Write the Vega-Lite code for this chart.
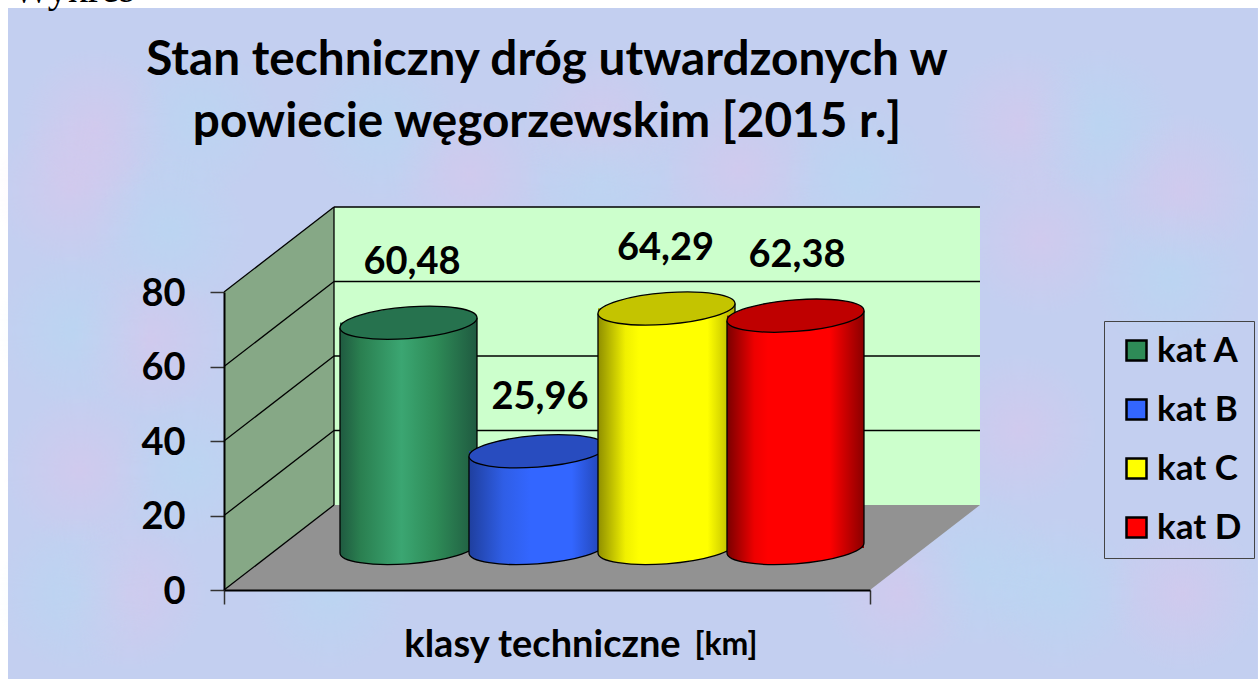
{"$schema":"https://vega.github.io/schema/vega-lite/v6.json","width":646,"height":298,"autosize":"none","padding":{"left":224,"top":292,"right":388,"bottom":89},"background":"#ffffff",
"title":{"text":["Stan techniczny dróg utwardzonych w","powiecie węgorzewskim [2015 r.]"],"font":"Lato","fontSize":47.7,"fontWeight":"bold","color":"#000000","lineHeight":62,"anchor":"middle","frame":"group","offset":-177},
"datasets":{
"bars":[{"kat":"kat A","klasa":1,"value":60.48,"label":"60,48"},{"kat":"kat B","klasa":2,"value":25.96,"label":"25,96"},{"kat":"kat C","klasa":3,"value":64.29,"label":"64,29"},{"kat":"kat D","klasa":4,"value":62.38,"label":"62,38"}],
"page":[{"a":-2.1046,"b":7.585,"c":-23.9,"d":156.24}],
"pink":[{"a":-1.43,"c":125},{"a":-1.624,"c":107.4},{"a":-1.004,"c":67.1},{"a":-1.547,"c":32.2},{"a":-1.159,"c":-1},{"a":1.477,"c":111.4},{"a":3.57,"c":112.8},{"a":5.74,"c":125},{"a":5.895,"c":94},{"a":7,"c":107.4},{"a":5.74,"c":43},{"a":7,"c":-1},{"a":4.81,"c":-1},{"a":2.484,"c":125}],
"cyan":[{"a":-0.616,"c":126.2},{"a":-0.849,"c":96.6},{"a":-1.6,"c":69.8},{"a":-0.694,"c":32.2},{"a":-1.6,"c":-1},{"a":0.392,"c":-1},{"a":2.484,"c":110.1},{"a":4.5,"c":110.1},{"a":6.36,"c":125},{"a":6.903,"c":83.2},{"a":5.43,"c":5.4},{"a":6.05,"c":-1},{"a":0.779,"c":125}],
"back":[{"a":0.4225,"b":5.4303,"c":22.82,"d":102.82}],
"floor":[{"a":-0.4302,"c":0,"d":0},{"a":0.4225,"c":0,"d":22.82},{"a":4.5776,"c":0,"d":22.82},{"a":5.4303,"c":22.82,"d":22.82}],
"side":[{"a":-0.4302,"c":0,"d":80},{"a":0.4225,"c":22.82,"d":102.82}],
"grid":[{"a":-0.4302,"b":0.4225,"c":0,"d":22.82},{"a":-0.4302,"b":0.4225,"c":20,"d":42.82},{"a":-0.4302,"b":0.4225,"c":40,"d":62.82},{"a":-0.4302,"b":0.4225,"c":60,"d":82.82},{"a":-0.4302,"b":0.4225,"c":80,"d":102.82},{"a":0.4225,"b":5.4303,"c":42.82,"d":42.82},{"a":0.4225,"b":5.4303,"c":62.82,"d":62.82},{"a":0.4225,"b":5.4303,"c":82.82,"d":82.82},{"a":0.4225,"b":5.4303,"c":102.82,"d":102.82},{"a":0.4225,"b":0.4225,"c":22.82,"d":102.82}]
},
"config":{"view":{"stroke":null},"axis":{"grid":false,"labelFont":"Lato","labelFontWeight":"bold","labelColor":"#000000","titleFont":"Lato","titleFontWeight":"bold","titleColor":"#000000","domainColor":"#000000","domainWidth":2,"tickColor":"#333333","tickWidth":1.5,"tickSize":14}},
"layer":[
{"data":{"name":"page"},"mark":{"type":"rect","fill":"#C3CFF0"},"encoding":{
"x":{"field":"a","type":"quantitative","scale":{"domain":[-0.4302,4.5776],"nice":false,"zero":false,"padding":0},"axis":{"title":"klasy techniczne","titleFontSize":38,"titleX":318,"titleY":55,"titleBaseline":"middle","labels":false,"values":[-0.4302,4.5776],"zindex":1}},
"x2":{"field":"b"},
"y":{"field":"c","type":"quantitative","scale":{"domain":[0,80],"nice":false,"zero":false,"padding":0},"axis":{"title":null,"labelFontSize":38,"labelPadding":25,"labelOffset":2,"values":[0,20,40,60,80],"zindex":1}},
"y2":{"field":"d"}}},
{"data":{"name":"pink"},"mark":{"type":"circle","size":24000,"opacity":1,"fill":{"gradient":"radial","stops":[{"offset":0,"color":"rgba(238,190,232,0.3)"},{"offset":1,"color":"rgba(238,190,232,0)"}]}},"encoding":{"x":{"field":"a","type":"quantitative"},"y":{"field":"c","type":"quantitative"}}},
{"data":{"name":"cyan"},"mark":{"type":"circle","size":24000,"opacity":1,"fill":{"gradient":"radial","stops":[{"offset":0,"color":"rgba(170,225,245,0.3)"},{"offset":1,"color":"rgba(170,225,245,0)"}]}},"encoding":{"x":{"field":"a","type":"quantitative"},"y":{"field":"c","type":"quantitative"}}},
{"data":{"values":[{}]},"mark":{"type":"text","font":"Liberation Serif","fontSize":40,"align":"left","baseline":"alphabetic","color":"#000000"},"encoding":{"x":{"datum":-2.07},"y":{"datum":157.8},"text":{"value":"Wykres"}}},
{"data":{"name":"back"},"mark":{"type":"rect","fill":"#CCFFCC"},"encoding":{"x":{"field":"a","type":"quantitative"},"x2":{"field":"b"},"y":{"field":"c","type":"quantitative"},"y2":{"field":"d"}}},
{"data":{"name":"floor"},"mark":{"type":"area","fill":"#929292","opacity":1},"encoding":{"x":{"field":"a","type":"quantitative"},"y":{"field":"c","type":"quantitative"},"y2":{"field":"d"}}},
{"data":{"name":"side"},"mark":{"type":"area","fill":"#86A886","opacity":1},"encoding":{"x":{"field":"a","type":"quantitative"},"y":{"field":"c","type":"quantitative"},"y2":{"field":"d"}}},
{"data":{"name":"grid"},"mark":{"type":"rule","color":"#000000","strokeWidth":1.3},"encoding":{"x":{"field":"a","type":"quantitative"},"x2":{"field":"b"},"y":{"field":"c","type":"quantitative"},"y2":{"field":"d"}}},

{"data":{"name":"bars"},"transform":[{"filter":"datum.kat==='kat A'"}],"layer":[
{"mark":{"type":"bar","orient":"vertical","width":137,"yOffset":-42,"y2Offset":-42},"encoding":{"x":{"field":"klasa","type":"quantitative"},"y":{"field":"value","type":"quantitative"},"y2":{"datum":0},"color":{"field":"kat","type":"nominal","scale":{"domain":["kat A","kat B","kat C","kat D"],"range":["#2E8B57","#3366FF","#FFFF00","#FF0000"]},"legend":{"orient":"none","legendX":880,"legendY":29,"title":null,"symbolType":"square","symbolSize":400,"symbolOffset":3,"symbolStrokeColor":"#000000","symbolStrokeWidth":2.5,"labelFont":"Lato","labelFontSize":35,"labelFontWeight":"bold","labelColor":"#000000","strokeColor":"#444444","padding":12,"rowPadding":23,"labelOffset":3}}}},
{"mark":{"type":"point","filled":true,"opacity":1,"size":18769,"yOffset":-42,"fill":{"gradient":"linear","x1":0,"x2":1,"y1":0,"y2":0,"stops":[{"offset":0,"color":"#1F5A40"},{"offset":0.15,"color":"#2A7F50"},{"offset":0.45,"color":"#3BA672"},{"offset":0.7,"color":"#2E8B57"},{"offset":1,"color":"#1F5A40"}]},"shape":"M1,-0.073C1,0.0546 0.552,0.1907 0,0.231C-0.552,0.2713 -1,0.2006 -1,0.073L-1,-0.1L1,-0.1Z"},"encoding":{"x":{"field":"klasa","type":"quantitative"},"y":{"datum":0}}},
{"mark":{"type":"bar","orient":"vertical","width":137,"yOffset":-42,"y2Offset":-42,"fill":{"gradient":"linear","x1":0,"x2":1,"y1":0,"y2":0,"stops":[{"offset":0,"color":"#1F5A40"},{"offset":0.15,"color":"#2A7F50"},{"offset":0.45,"color":"#3BA672"},{"offset":0.7,"color":"#2E8B57"},{"offset":1,"color":"#1F5A40"}]}},"encoding":{"x":{"field":"klasa","type":"quantitative"},"y":{"field":"value","type":"quantitative"},"y2":{"datum":0}}},
{"mark":{"type":"point","filled":true,"opacity":1,"size":18769,"yOffset":-42,"fill":{"gradient":"linear","x1":0,"x2":1,"y1":0,"y2":0,"stops":[{"offset":0,"color":"#1F5A40"},{"offset":0.15,"color":"#2A7F50"},{"offset":0.45,"color":"#3BA672"},{"offset":0.7,"color":"#2E8B57"},{"offset":1,"color":"#1F5A40"}]},"shape":"M-1,0.073L1,-0.073L1,0.1L-1,0.1Z"},"encoding":{"x":{"field":"klasa","type":"quantitative"},"y":{"field":"value","type":"quantitative"}}},
{"mark":{"type":"point","filled":false,"opacity":1,"size":18769,"yOffset":-42,"stroke":"#000000","strokeWidth":1.3,"shape":"M1,-0.073C1,0.0546 0.552,0.1907 0,0.231C-0.552,0.2713 -1,0.2006 -1,0.073"},"encoding":{"x":{"field":"klasa","type":"quantitative"},"y":{"datum":0}}},
{"mark":{"type":"rule","xOffset":-68.5,"x2Offset":-68.5,"yOffset":-37,"y2Offset":-37,"color":"#000000","strokeWidth":1.3},"encoding":{"x":{"field":"klasa","type":"quantitative"},"y":{"field":"value","type":"quantitative"},"y2":{"datum":0}}},
{"mark":{"type":"rule","xOffset":68.5,"x2Offset":68.5,"yOffset":-47,"y2Offset":-47,"color":"#000000","strokeWidth":1.3},"encoding":{"x":{"field":"klasa","type":"quantitative"},"y":{"field":"value","type":"quantitative"},"y2":{"datum":0}}},
{"mark":{"type":"point","filled":true,"opacity":1,"size":18769,"yOffset":-42,"fill":"#26724E","stroke":"#000000","strokeWidth":1.3,"shape":"M1,-0.073C1,0.0546 0.552,0.1907 0,0.231C-0.552,0.2713 -1,0.2006 -1,0.073C-1,-0.0546 -0.552,-0.1907 0,-0.231C0.552,-0.2713 1,-0.2006 1,-0.073Z"},"encoding":{"x":{"field":"klasa","type":"quantitative"},"y":{"field":"value","type":"quantitative"}}},
{"mark":{"type":"text","font":"Lato","fontWeight":"bold","fontSize":38,"color":"#000000","baseline":"middle","xOffset":3.5,"yOffset":-101.7},"encoding":{"x":{"field":"klasa","type":"quantitative"},"y":{"field":"value","type":"quantitative"},"text":{"field":"label"}}}
]},

{"data":{"name":"bars"},"transform":[{"filter":"datum.kat==='kat B'"}],"layer":[
{"mark":{"type":"bar","orient":"vertical","width":137,"yOffset":-42,"y2Offset":-42},"encoding":{"x":{"field":"klasa","type":"quantitative"},"y":{"field":"value","type":"quantitative"},"y2":{"datum":0},"color":{"field":"kat","type":"nominal"}}},
{"mark":{"type":"point","filled":true,"opacity":1,"size":18769,"yOffset":-42,"fill":{"gradient":"linear","x1":0,"x2":1,"y1":0,"y2":0,"stops":[{"offset":0,"color":"#1F3F9E"},{"offset":0.25,"color":"#2F5EE6"},{"offset":0.45,"color":"#3366FF"},{"offset":0.75,"color":"#3366FF"},{"offset":1,"color":"#2040A8"}]},"shape":"M1,-0.073C1,0.0546 0.552,0.1907 0,0.231C-0.552,0.2713 -1,0.2006 -1,0.073L-1,-0.1L1,-0.1Z"},"encoding":{"x":{"field":"klasa","type":"quantitative"},"y":{"datum":0}}},
{"mark":{"type":"bar","orient":"vertical","width":137,"yOffset":-42,"y2Offset":-42,"fill":{"gradient":"linear","x1":0,"x2":1,"y1":0,"y2":0,"stops":[{"offset":0,"color":"#1F3F9E"},{"offset":0.25,"color":"#2F5EE6"},{"offset":0.45,"color":"#3366FF"},{"offset":0.75,"color":"#3366FF"},{"offset":1,"color":"#2040A8"}]}},"encoding":{"x":{"field":"klasa","type":"quantitative"},"y":{"field":"value","type":"quantitative"},"y2":{"datum":0}}},
{"mark":{"type":"point","filled":true,"opacity":1,"size":18769,"yOffset":-42,"fill":{"gradient":"linear","x1":0,"x2":1,"y1":0,"y2":0,"stops":[{"offset":0,"color":"#1F3F9E"},{"offset":0.25,"color":"#2F5EE6"},{"offset":0.45,"color":"#3366FF"},{"offset":0.75,"color":"#3366FF"},{"offset":1,"color":"#2040A8"}]},"shape":"M-1,0.073L1,-0.073L1,0.1L-1,0.1Z"},"encoding":{"x":{"field":"klasa","type":"quantitative"},"y":{"field":"value","type":"quantitative"}}},
{"mark":{"type":"point","filled":false,"opacity":1,"size":18769,"yOffset":-42,"stroke":"#000000","strokeWidth":1.3,"shape":"M1,-0.073C1,0.0546 0.552,0.1907 0,0.231C-0.552,0.2713 -1,0.2006 -1,0.073"},"encoding":{"x":{"field":"klasa","type":"quantitative"},"y":{"datum":0}}},
{"mark":{"type":"rule","xOffset":-68.5,"x2Offset":-68.5,"yOffset":-37,"y2Offset":-37,"color":"#000000","strokeWidth":1.3},"encoding":{"x":{"field":"klasa","type":"quantitative"},"y":{"field":"value","type":"quantitative"},"y2":{"datum":0}}},
{"mark":{"type":"rule","xOffset":68.5,"x2Offset":68.5,"yOffset":-47,"y2Offset":-47,"color":"#000000","strokeWidth":1.3},"encoding":{"x":{"field":"klasa","type":"quantitative"},"y":{"field":"value","type":"quantitative"},"y2":{"datum":0}}},
{"mark":{"type":"point","filled":true,"opacity":1,"size":18769,"yOffset":-42,"fill":"#284CBF","stroke":"#000000","strokeWidth":1.3,"shape":"M1,-0.073C1,0.0546 0.552,0.1907 0,0.231C-0.552,0.2713 -1,0.2006 -1,0.073C-1,-0.0546 -0.552,-0.1907 0,-0.231C0.552,-0.2713 1,-0.2006 1,-0.073Z"},"encoding":{"x":{"field":"klasa","type":"quantitative"},"y":{"field":"value","type":"quantitative"}}},
{"mark":{"type":"text","font":"Lato","fontWeight":"bold","fontSize":38,"color":"#000000","baseline":"middle","xOffset":2.5,"yOffset":-95},"encoding":{"x":{"field":"klasa","type":"quantitative"},"y":{"field":"value","type":"quantitative"},"text":{"field":"label"}}}
]},

{"data":{"name":"bars"},"transform":[{"filter":"datum.kat==='kat C'"}],"layer":[
{"mark":{"type":"bar","orient":"vertical","width":137,"yOffset":-42,"y2Offset":-42},"encoding":{"x":{"field":"klasa","type":"quantitative"},"y":{"field":"value","type":"quantitative"},"y2":{"datum":0},"color":{"field":"kat","type":"nominal"}}},
{"mark":{"type":"point","filled":true,"opacity":1,"size":18769,"yOffset":-42,"fill":{"gradient":"linear","x1":0,"x2":1,"y1":0,"y2":0,"stops":[{"offset":0,"color":"#8F8F00"},{"offset":0.2,"color":"#F0F000"},{"offset":0.3,"color":"#FFFF00"},{"offset":0.8,"color":"#FFFF00"},{"offset":1,"color":"#B0B000"}]},"shape":"M1,-0.073C1,0.0546 0.552,0.1907 0,0.231C-0.552,0.2713 -1,0.2006 -1,0.073L-1,-0.1L1,-0.1Z"},"encoding":{"x":{"field":"klasa","type":"quantitative"},"y":{"datum":0}}},
{"mark":{"type":"bar","orient":"vertical","width":137,"yOffset":-42,"y2Offset":-42,"fill":{"gradient":"linear","x1":0,"x2":1,"y1":0,"y2":0,"stops":[{"offset":0,"color":"#8F8F00"},{"offset":0.2,"color":"#F0F000"},{"offset":0.3,"color":"#FFFF00"},{"offset":0.8,"color":"#FFFF00"},{"offset":1,"color":"#B0B000"}]}},"encoding":{"x":{"field":"klasa","type":"quantitative"},"y":{"field":"value","type":"quantitative"},"y2":{"datum":0}}},
{"mark":{"type":"point","filled":true,"opacity":1,"size":18769,"yOffset":-42,"fill":{"gradient":"linear","x1":0,"x2":1,"y1":0,"y2":0,"stops":[{"offset":0,"color":"#8F8F00"},{"offset":0.2,"color":"#F0F000"},{"offset":0.3,"color":"#FFFF00"},{"offset":0.8,"color":"#FFFF00"},{"offset":1,"color":"#B0B000"}]},"shape":"M-1,0.073L1,-0.073L1,0.1L-1,0.1Z"},"encoding":{"x":{"field":"klasa","type":"quantitative"},"y":{"field":"value","type":"quantitative"}}},
{"mark":{"type":"point","filled":false,"opacity":1,"size":18769,"yOffset":-42,"stroke":"#000000","strokeWidth":1.3,"shape":"M1,-0.073C1,0.0546 0.552,0.1907 0,0.231C-0.552,0.2713 -1,0.2006 -1,0.073"},"encoding":{"x":{"field":"klasa","type":"quantitative"},"y":{"datum":0}}},
{"mark":{"type":"rule","xOffset":-68.5,"x2Offset":-68.5,"yOffset":-37,"y2Offset":-37,"color":"#000000","strokeWidth":1.3},"encoding":{"x":{"field":"klasa","type":"quantitative"},"y":{"field":"value","type":"quantitative"},"y2":{"datum":0}}},
{"mark":{"type":"rule","xOffset":68.5,"x2Offset":68.5,"yOffset":-47,"y2Offset":-47,"color":"#000000","strokeWidth":1.3},"encoding":{"x":{"field":"klasa","type":"quantitative"},"y":{"field":"value","type":"quantitative"},"y2":{"datum":0}}},
{"mark":{"type":"point","filled":true,"opacity":1,"size":18769,"yOffset":-42,"fill":"#C4C400","stroke":"#000000","strokeWidth":1.3,"shape":"M1,-0.073C1,0.0546 0.552,0.1907 0,0.231C-0.552,0.2713 -1,0.2006 -1,0.073C-1,-0.0546 -0.552,-0.1907 0,-0.231C0.552,-0.2713 1,-0.2006 1,-0.073Z"},"encoding":{"x":{"field":"klasa","type":"quantitative"},"y":{"field":"value","type":"quantitative"}}},
{"mark":{"type":"text","font":"Lato","fontWeight":"bold","fontSize":38,"color":"#000000","baseline":"middle","xOffset":-1,"yOffset":-101.5},"encoding":{"x":{"field":"klasa","type":"quantitative"},"y":{"field":"value","type":"quantitative"},"text":{"field":"label"}}}
]},

{"data":{"name":"bars"},"transform":[{"filter":"datum.kat==='kat D'"}],"layer":[
{"mark":{"type":"bar","orient":"vertical","width":137,"yOffset":-42,"y2Offset":-42},"encoding":{"x":{"field":"klasa","type":"quantitative"},"y":{"field":"value","type":"quantitative"},"y2":{"datum":0},"color":{"field":"kat","type":"nominal"}}},
{"mark":{"type":"point","filled":true,"opacity":1,"size":18769,"yOffset":-42,"fill":{"gradient":"linear","x1":0,"x2":1,"y1":0,"y2":0,"stops":[{"offset":0,"color":"#7A0000"},{"offset":0.2,"color":"#EE0000"},{"offset":0.3,"color":"#FF0000"},{"offset":0.75,"color":"#FF0000"},{"offset":1,"color":"#8A0000"}]},"shape":"M1,-0.073C1,0.0546 0.552,0.1907 0,0.231C-0.552,0.2713 -1,0.2006 -1,0.073L-1,-0.1L1,-0.1Z"},"encoding":{"x":{"field":"klasa","type":"quantitative"},"y":{"datum":0}}},
{"mark":{"type":"bar","orient":"vertical","width":137,"yOffset":-42,"y2Offset":-42,"fill":{"gradient":"linear","x1":0,"x2":1,"y1":0,"y2":0,"stops":[{"offset":0,"color":"#7A0000"},{"offset":0.2,"color":"#EE0000"},{"offset":0.3,"color":"#FF0000"},{"offset":0.75,"color":"#FF0000"},{"offset":1,"color":"#8A0000"}]}},"encoding":{"x":{"field":"klasa","type":"quantitative"},"y":{"field":"value","type":"quantitative"},"y2":{"datum":0}}},
{"mark":{"type":"point","filled":true,"opacity":1,"size":18769,"yOffset":-42,"fill":{"gradient":"linear","x1":0,"x2":1,"y1":0,"y2":0,"stops":[{"offset":0,"color":"#7A0000"},{"offset":0.2,"color":"#EE0000"},{"offset":0.3,"color":"#FF0000"},{"offset":0.75,"color":"#FF0000"},{"offset":1,"color":"#8A0000"}]},"shape":"M-1,0.073L1,-0.073L1,0.1L-1,0.1Z"},"encoding":{"x":{"field":"klasa","type":"quantitative"},"y":{"field":"value","type":"quantitative"}}},
{"mark":{"type":"point","filled":false,"opacity":1,"size":18769,"yOffset":-42,"stroke":"#000000","strokeWidth":1.3,"shape":"M1,-0.073C1,0.0546 0.552,0.1907 0,0.231C-0.552,0.2713 -1,0.2006 -1,0.073"},"encoding":{"x":{"field":"klasa","type":"quantitative"},"y":{"datum":0}}},
{"mark":{"type":"rule","xOffset":-68.5,"x2Offset":-68.5,"yOffset":-37,"y2Offset":-37,"color":"#000000","strokeWidth":1.3},"encoding":{"x":{"field":"klasa","type":"quantitative"},"y":{"field":"value","type":"quantitative"},"y2":{"datum":0}}},
{"mark":{"type":"rule","xOffset":68.5,"x2Offset":68.5,"yOffset":-47,"y2Offset":-47,"color":"#000000","strokeWidth":1.3},"encoding":{"x":{"field":"klasa","type":"quantitative"},"y":{"field":"value","type":"quantitative"},"y2":{"datum":0}}},
{"mark":{"type":"point","filled":true,"opacity":1,"size":18769,"yOffset":-42,"fill":"#BF0000","stroke":"#000000","strokeWidth":1.3,"shape":"M1,-0.073C1,0.0546 0.552,0.1907 0,0.231C-0.552,0.2713 -1,0.2006 -1,0.073C-1,-0.0546 -0.552,-0.1907 0,-0.231C0.552,-0.2713 1,-0.2006 1,-0.073Z"},"encoding":{"x":{"field":"klasa","type":"quantitative"},"y":{"field":"value","type":"quantitative"}}},
{"mark":{"type":"text","font":"Lato","fontWeight":"bold","fontSize":38,"color":"#000000","baseline":"middle","xOffset":1.5,"yOffset":-101.6},"encoding":{"x":{"field":"klasa","type":"quantitative"},"y":{"field":"value","type":"quantitative"},"text":{"field":"label"}}}
]},
{"data":{"values":[{}]},"mark":{"type":"text","font":"Lato","fontWeight":"bold","fontSize":32,"color":"#000000","baseline":"middle","align":"center"},"encoding":{"x":{"datum":3.4612},"y":{"datum":-14.8},"text":{"value":"[km]"}}}
]}
